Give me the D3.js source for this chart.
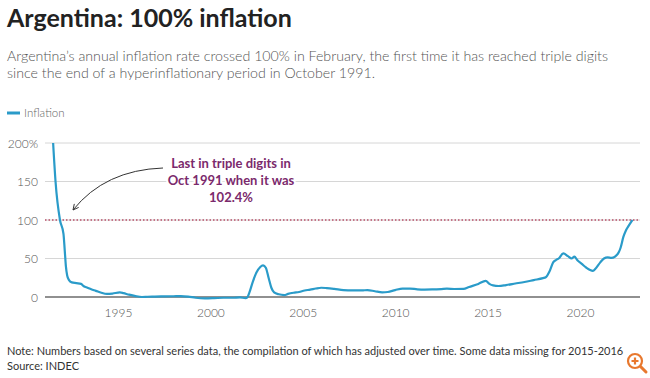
<!DOCTYPE html>
<html>
<head>
<meta charset="utf-8">
<script src="https://cdn.jsdelivr.net/npm/d3@7"></script>
<style>
  html, body { margin: 0; padding: 0; background: #fff; }
  svg { display: block; font-family: Lato, "Open Sans", sans-serif; }
</style>
</head>
<body>
<svg id="chart" width="650" height="378"></svg>
<script>
// ---- data ----
const years = [1991.49,1991.62,1991.86,1992.05,1992.12,1992.18,1992.25,1992.35,1992.5,1992.75,1993.0,1993.15,1993.35,1993.55,1993.8,1994.1,1994.4,1994.7,1995.1,1995.3,1995.6,1995.9,1996.3,1996.6,1997.0,1997.5,1998.0,1998.4,1998.8,1999.2,1999.7,2000.2,2000.7,2001.2,2001.6,2001.9,2002.0,2002.1,2002.3,2002.5,2002.7,2002.85,2003.0,2003.15,2003.3,2003.45,2003.7,2004.0,2004.2,2004.5,2004.8,2005.1,2005.4,2005.7,2006.0,2006.3,2006.7,2007.2,2007.7,2008.2,2008.5,2008.9,2009.3,2009.6,2010.0,2010.4,2010.8,2011.2,2011.6,2012.0,2012.5,2012.8,2013.2,2013.7,2014.0,2014.5,2014.9,2015.1,2015.3,2015.6,2016.0,2016.5,2017.0,2017.5,2018.0,2018.15,2018.35,2018.55,2018.7,2018.85,2019.1,2019.35,2019.55,2019.7,2019.85,2020.1,2020.35,2020.55,2020.7,2020.85,2021.1,2021.3,2021.5,2021.7,2021.9,2022.1,2022.2,2022.35,2022.5,2022.65,2022.84];
const inflation = [200,150,100,82,60,40,28,22,19,18,17,14,12,10,8,5.5,4,4.5,6,5,3,1.5,0,0.3,0.5,0.8,1,1.2,0.5,-1,-1.8,-1.5,-1,-1,-0.5,-1.5,-0.5,5,20,32,39,41,38,25,12,6,3.5,2.5,4,5.5,6.5,8.5,9.5,11,12,11.5,10.5,9,8.5,8.5,9,7.5,6,6.5,9,11,11,10,9.7,9.8,10.3,10.8,10.4,10.5,13,17,21,17,15,14.3,15.5,17.5,19.5,22,24.5,25.6,33,45,48,50,56.7,53,50,52.5,48,43,38,35,34,37,45,50,51.5,50.8,52.5,58,64,78,87,93,100];
const yTicks = [0, 50, 100, 150, 200];
const xTicks = [1995, 2000, 2005, 2010, 2015, 2020];
const threshold = 100;
const annotationLines = ["Last in triple digits in", "Oct 1991 when it was", "102.4%"];
const title = "Argentina: 100% inflation";
const subtitleLines = ["Argentina\u2019s annual inflation rate crossed 100% in February, the first time it has reached triple digits",
                       "since the end of a hyperinflationary period in October 1991."];
const legendLabel = "Inflation";
const noteText = "Note: Numbers based on several series data, the compilation of which has adjusted over time. Some data missing for 2015-2016";
const sourceText = "Source: INDEC";

const data = years.map((yr, i) => ({ year: yr, value: inflation[i] }));

const svg = d3.select("#chart");
const lineColor = "#2a9bc9";
const plotLeft = 45, plotRight = 640, plotTop = 143, plotBottom = 297;

const x = d3.scaleLinear().domain([1991.05, 2023.25]).range([plotLeft, plotRight]);
const y = d3.scaleLinear().domain([0, 200]).range([plotBottom, plotTop]);

// title & subtitle
svg.append("text").attr("x", 7).attr("y", 27)
  .attr("font-size", 25).attr("font-weight", 700).attr("fill", "#222")
  .text(title);
subtitleLines.forEach((t, i) => {
  svg.append("text").attr("x", 7).attr("y", 61 + i * 17)
    .attr("font-size", 14.2).attr("font-weight", 300).attr("fill", "#555")
    .text(t);
});

// legend
svg.append("line").attr("x1", 7).attr("x2", 20).attr("y1", 113).attr("y2", 113)
  .attr("stroke", lineColor).attr("stroke-width", 3);
svg.append("text").attr("x", 24).attr("y", 117)
  .attr("font-size", 11.5).attr("font-weight", 300).attr("fill", "#666")
  .text(legendLabel);

// gridlines
svg.append("g").selectAll("line").data(yTicks.filter(d => d !== 0)).join("line")
  .attr("x1", plotLeft).attr("x2", plotRight)
  .attr("y1", d => y(d)).attr("y2", d => y(d))
  .attr("stroke", "#d6d6d6").attr("stroke-width", 1);

// y tick labels
svg.append("g").selectAll("text").data(yTicks).join("text")
  .attr("x", 38).attr("y", d => y(d) + 4.5)
  .attr("text-anchor", "end").attr("font-size", 12).attr("font-weight", 300).attr("fill", "#555")
  .text(d => d === 200 ? d + "%" : d);

// x axis
const xAxis = d3.axisBottom(x).tickValues(xTicks).tickFormat(d3.format("d")).tickSize(0).tickPadding(11);
const gx = svg.append("g").attr("transform", `translate(0,${plotBottom})`).call(xAxis);
gx.select(".domain").remove();
gx.selectAll("text").attr("font-size", 12).attr("font-weight", 300).attr("fill", "#555")
  .attr("font-family", "Lato, sans-serif");

// threshold dotted line
svg.append("line").attr("x1", plotLeft).attr("x2", plotRight)
  .attr("y1", y(threshold)).attr("y2", y(threshold))
  .attr("stroke", "#b9506a").attr("stroke-width", 1.3).attr("stroke-dasharray", "1.5,2");

// baseline
svg.append("line").attr("x1", plotLeft).attr("x2", plotRight)
  .attr("y1", y(0)).attr("y2", y(0)).attr("stroke", "#222").attr("stroke-width", 1.2);

// series line
const line = d3.line().x(d => x(d.year)).y(d => y(d.value)).curve(d3.curveMonotoneX);
svg.append("path").datum(data).attr("d", line)
  .attr("fill", "none").attr("stroke", lineColor).attr("stroke-width", 2.2)
  .attr("stroke-linejoin", "round");

// annotation arrow
svg.append("defs").append("marker").attr("id", "arrow")
  .attr("viewBox", "0 0 10 10").attr("refX", 9).attr("refY", 5)
  .attr("markerWidth", 7).attr("markerHeight", 7).attr("orient", "auto")
  .append("path").attr("d", "M1,1 L9,5 L1,9").attr("fill", "none").attr("stroke", "#333").attr("stroke-width", 1.3);
svg.append("path").attr("d", "M163,168 Q105,170 73,210")
  .attr("fill", "none").attr("stroke", "#333").attr("stroke-width", 1)
  .attr("marker-end", "url(#arrow)");

// annotation text
annotationLines.forEach((t, i) => {
  svg.append("text").attr("x", 231).attr("y", 168 + i * 17)
    .attr("text-anchor", "middle").attr("font-size", 13).attr("font-weight", 700)
    .attr("fill", "#7b2a6c").attr("stroke", "#fff").attr("stroke-width", 4)
    .attr("paint-order", "stroke").text(t);
});

// note & source
svg.append("text").attr("x", 7).attr("y", 355).attr("font-size", 11).attr("fill", "#333").text(noteText);
svg.append("text").attr("x", 7).attr("y", 370).attr("font-size", 11).attr("fill", "#333").text(sourceText);

// magnifier icon
const icon = svg.append("g").attr("transform", "translate(635,361)");
icon.append("line").attr("x1", 5).attr("y1", 5).attr("x2", 11).attr("y2", 11)
  .attr("stroke", "#e8782e").attr("stroke-width", 3).attr("stroke-linecap", "round");
icon.append("circle").attr("r", 7).attr("fill", "#fff").attr("stroke", "#e8782e").attr("stroke-width", 2.2);
icon.append("path").attr("d", "M-3.5,0 H3.5 M0,-3.5 V3.5").attr("stroke", "#e8782e").attr("stroke-width", 2.2);
</script>
</body>
</html>
